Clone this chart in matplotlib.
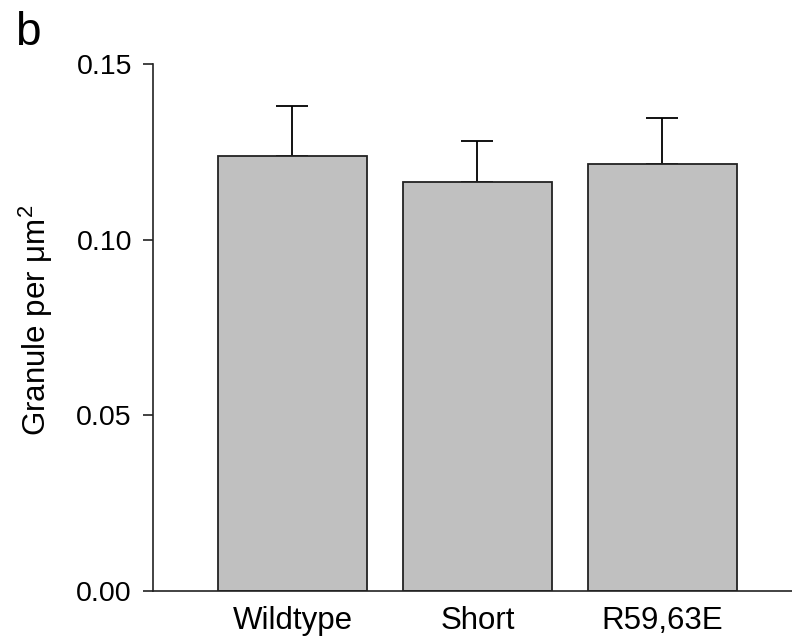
import matplotlib
matplotlib.use("Agg")
import matplotlib.pyplot as plt
import numpy as np

categories = ["Wildtype", "Short", "R59,63E"]
means = [0.1238, 0.1164, 0.1215]
errors_up = [0.0142, 0.0116, 0.0131]
yticks = [0.00, 0.05, 0.10, 0.15]
ytick_labels = ["0.00", "0.05", "0.10", "0.15"]

plt.rcParams['font.family'] = ['Liberation Sans', 'DejaVu Sans']
plt.rcParams['mathtext.fontset'] = 'custom'
plt.rcParams['mathtext.rm'] = 'Liberation Sans'
plt.rcParams['mathtext.it'] = 'Liberation Sans:italic'

W, H = 792, 640
fig = plt.figure(figsize=(W / 100, H / 100), dpi=100)
ax = fig.add_axes([153 / W, 1 - 591 / H, (W - 153) / W, (591 - 64) / H])

x = np.arange(len(categories))
ax.bar(x, means, width=0.805, color='#c0c0c0', edgecolor='#222222', linewidth=1.3, zorder=2)
ax.errorbar(x, means, yerr=[np.zeros(len(means)), errors_up], fmt='none',
            ecolor='black', elinewidth=1.3, capsize=11.5, capthick=1.3, zorder=1)

ax.set_xlim(-0.754, 2.70)
ax.set_ylim(0, 0.15)
ax.set_yticks(yticks)
ax.set_yticklabels(ytick_labels)
ax.set_xticks(x)
ax.set_xticklabels(categories)

for s in ['top', 'right']:
    ax.spines[s].set_visible(False)
for s in ['left', 'bottom']:
    ax.spines[s].set_linewidth(1.2)
    ax.spines[s].set_color('#222222')

ax.tick_params(axis='y', length=7.2, width=1.2, pad=8, labelsize=20.5, color='#222222')
ax.tick_params(axis='x', length=0, pad=10.5, labelsize=22.5)

ax.set_ylabel('Granule per μm$^2$', fontsize=22.5)
ax.yaxis.set_label_coords(-0.153, 0.513)

fig.text(15 / W, 1 - 45 / H, 'b', fontsize=33, va='baseline', ha='left')

fig.savefig('out.png', dpi=100)
